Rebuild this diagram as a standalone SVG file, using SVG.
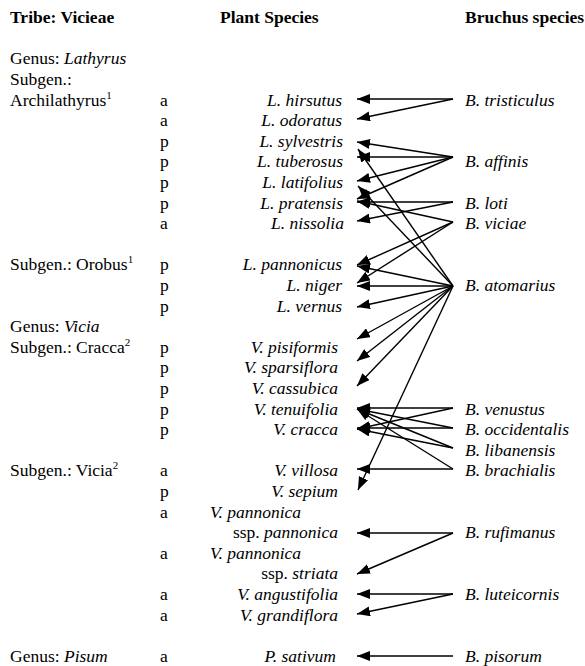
<svg xmlns="http://www.w3.org/2000/svg" width="585" height="666" viewBox="0 0 585 666">
<style>
text{font-family:"Liberation Serif","Times New Roman",serif;font-size:17.5px;fill:#000}
.h{font-weight:bold}
.i{font-style:italic}
.p{text-anchor:end;font-style:italic}
.sup{font-size:11px}
.c line{stroke:#000;stroke-width:1.4;marker-end:url(#ah)}
</style>
<defs>
<marker id="ah" viewBox="0 0 13 10" refX="13" refY="5" markerWidth="13" markerHeight="10" markerUnits="userSpaceOnUse" orient="auto">
<path d="M0,0 L13,5 L0,10 Z" fill="#000"/>
</marker>
</defs>
<rect width="585" height="666" fill="#fff"/>
<g id="headers">
<text class="h" x="10" y="23">Tribe: Vicieae</text>
<text class="h" x="220" y="23">Plant Species</text>
<text class="h" x="465" y="23">Bruchus species</text>
</g>
<g id="taxa">
<text x="10" y="64.3">Genus: <tspan class="i">Lathyrus</tspan></text>
<text x="10" y="84.9">Subgen.:</text>
<text x="10" y="105.5">Archilathyrus<tspan class="sup" dy="-7">1</tspan></text>
<text x="10" y="270.3">Subgen.: Orobus<tspan class="sup" dy="-7">1</tspan></text>
<text x="10" y="332.1">Genus: <tspan class="i">Vicia</tspan></text>
<text x="10" y="352.7">Subgen.: Cracca<tspan class="sup" dy="-7">2</tspan></text>
<text x="10" y="476.3">Subgen.: Vicia<tspan class="sup" dy="-7">2</tspan></text>
<text x="10" y="661.7">Genus: <tspan class="i">Pisum</tspan></text>
</g>
<g id="lifecycle">
<text x="160" y="105.5">a</text>
<text x="160" y="126.1">a</text>
<text x="160" y="146.7">p</text>
<text x="160" y="167.3">p</text>
<text x="160" y="187.9">p</text>
<text x="160" y="208.5">p</text>
<text x="160" y="229.1">a</text>
<text x="160" y="270.3">p</text>
<text x="160" y="290.9">p</text>
<text x="160" y="311.5">p</text>
<text x="160" y="352.7">p</text>
<text x="160" y="373.3">p</text>
<text x="160" y="393.9">p</text>
<text x="160" y="414.5">p</text>
<text x="160" y="435.1">p</text>
<text x="160" y="476.3">a</text>
<text x="160" y="496.9">p</text>
<text x="160" y="517.5">a</text>
<text x="160" y="558.7">a</text>
<text x="160" y="599.9">a</text>
<text x="160" y="620.5">a</text>
<text x="160" y="661.7">a</text>
</g>
<g id="plant-hirsutus"><text class="p" x="342" y="105.5">L. hirsutus</text></g>
<g id="plant-odoratus"><text class="p" x="342" y="126.1">L. odoratus</text></g>
<g id="plant-sylvestris"><text class="p" x="343" y="146.7">L. sylvestris</text></g>
<g id="plant-tuberosus"><text class="p" x="343" y="167.3">L. tuberosus</text></g>
<g id="plant-latifolius"><text class="p" x="343" y="187.9">L. latifolius</text></g>
<g id="plant-pratensis"><text class="p" x="343" y="208.5">L. pratensis</text></g>
<g id="plant-nissolia"><text class="p" x="344" y="229.1">L. nissolia</text></g>
<g id="plant-pannonicus"><text class="p" x="342" y="270.3">L. pannonicus</text></g>
<g id="plant-niger"><text class="p" x="342" y="290.9">L. niger</text></g>
<g id="plant-vernus"><text class="p" x="342" y="311.5">L. vernus</text></g>
<g id="plant-pisiformis"><text class="p" x="338" y="352.7">V. pisiformis</text></g>
<g id="plant-sparsiflora"><text class="p" x="338" y="373.3">V. sparsiflora</text></g>
<g id="plant-cassubica"><text class="p" x="338" y="393.9">V. cassubica</text></g>
<g id="plant-tenuifolia"><text class="p" x="338" y="414.5">V. tenuifolia</text></g>
<g id="plant-cracca"><text class="p" x="338" y="435.1">V. cracca</text></g>
<g id="plant-villosa"><text class="p" x="338" y="476.3">V. villosa</text></g>
<g id="plant-sepium"><text class="p" x="338" y="496.9">V. sepium</text></g>
<g id="plant-pannonica-pannonica">
<text class="i" x="210" y="517.5">V. pannonica</text>
<text x="338" y="538.1" text-anchor="end">ssp. <tspan class="i">pannonica</tspan></text>
</g>
<g id="plant-pannonica-striata">
<text class="i" x="210" y="558.7">V. pannonica</text>
<text x="338" y="579.3" text-anchor="end">ssp. <tspan class="i">striata</tspan></text>
</g>
<g id="plant-angustifolia"><text class="p" x="338" y="599.9">V. angustifolia</text></g>
<g id="plant-grandiflora"><text class="p" x="338" y="620.5">V. grandiflora</text></g>
<g id="plant-sativum"><text class="p" x="336" y="661.7">P. sativum</text></g>
<g id="b-tristiculus"><text class="i" x="465" y="105.5">B. tristiculus</text></g>
<g id="b-affinis"><text class="i" x="465" y="167.3">B. affinis</text></g>
<g id="b-loti"><text class="i" x="465" y="208.5">B. loti</text></g>
<g id="b-viciae"><text class="i" x="465" y="229.1">B. viciae</text></g>
<g id="b-atomarius"><text class="i" x="465" y="290.9">B. atomarius</text></g>
<g id="b-venustus"><text class="i" x="465" y="414.5">B. venustus</text></g>
<g id="b-occidentalis"><text class="i" x="465" y="435.1">B. occidentalis</text></g>
<g id="b-libanensis"><text class="i" x="465" y="455.7">B. libanensis</text></g>
<g id="b-brachialis"><text class="i" x="465" y="476.3">B. brachialis</text></g>
<g id="b-rufimanus"><text class="i" x="465" y="538.1">B. rufimanus</text></g>
<g id="b-luteicornis"><text class="i" x="465" y="599.9">B. luteicornis</text></g>
<g id="b-pisorum"><text class="i" x="465" y="661.7">B. pisorum</text></g>
<g id="connectors" class="c">
<line x1="453" y1="99" x2="357" y2="99"/>
<line x1="453" y1="99" x2="357" y2="119"/>
<line x1="453" y1="157" x2="357" y2="142"/>
<line x1="453" y1="157" x2="357" y2="157"/>
<line x1="453" y1="157" x2="357" y2="181"/>
<line x1="453" y1="157" x2="357" y2="199"/>
<line x1="453" y1="202" x2="357" y2="202"/>
<line x1="453" y1="202" x2="357" y2="221"/>
<line x1="453" y1="222" x2="357" y2="201"/>
<line x1="453" y1="222" x2="357" y2="265"/>
<line x1="453" y1="222" x2="357" y2="283"/>
<line x1="453" y1="286" x2="358" y2="149"/>
<line x1="453" y1="286" x2="358" y2="186"/>
<line x1="453" y1="286" x2="357" y2="266"/>
<line x1="453" y1="286" x2="357" y2="286"/>
<line x1="453" y1="286" x2="357" y2="307"/>
<line x1="453" y1="286" x2="357" y2="339"/>
<line x1="453" y1="286" x2="357" y2="361"/>
<line x1="453" y1="286" x2="357" y2="386"/>
<line x1="453" y1="286" x2="358" y2="490"/>
<line x1="453" y1="408" x2="357" y2="408"/>
<line x1="453" y1="408" x2="357" y2="429"/>
<line x1="453" y1="428" x2="357" y2="409"/>
<line x1="453" y1="428" x2="357" y2="428"/>
<line x1="453" y1="448" x2="357" y2="409"/>
<line x1="453" y1="448" x2="357" y2="429"/>
<line x1="453" y1="469" x2="357" y2="409"/>
<line x1="453" y1="469" x2="357" y2="469"/>
<line x1="453" y1="533" x2="357" y2="533"/>
<line x1="453" y1="533" x2="357" y2="574"/>
<line x1="453" y1="594" x2="357" y2="594"/>
<line x1="453" y1="594" x2="357" y2="614"/>
<line x1="453" y1="656" x2="357" y2="656"/>
</g>
</svg>
